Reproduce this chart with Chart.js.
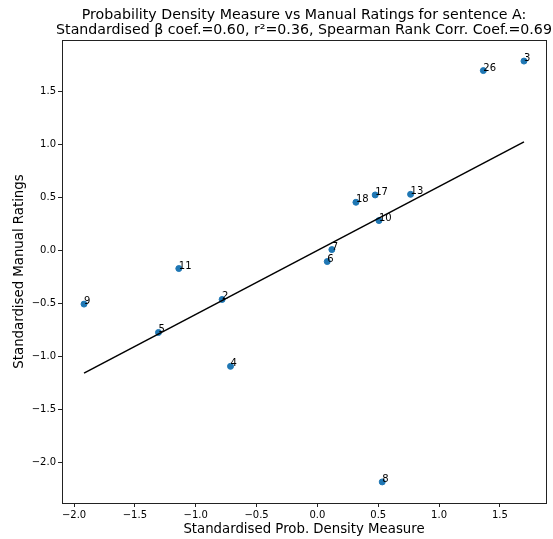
<!DOCTYPE html>
<html>
<head>
<meta charset="utf-8">
<script src="https://cdn.jsdelivr.net/npm/chart.js@4.4.1/dist/chart.umd.min.js"></script>
<style>
  html, body { margin: 0; padding: 0; background: #fff; }
  #wrap { width: 553px; height: 539px; }
</style>
</head>
<body>
<div id="wrap"><canvas id="chart" width="553" height="539"></canvas></div>
<script>
/* data */
const sentenceIds   = ["3", "26", "17", "13", "18", "10", "7", "6", "11", "9", "2", "5", "4", "8"];
const probDensity   = [1.698, 1.364, 0.475, 0.766, 0.317, 0.506, 0.119, 0.081, -1.139, -1.918, -0.783, -1.306, -0.714, 0.533];
const manualRatings = [1.790, 1.700, 0.525, 0.531, 0.456, 0.283, 0.009, -0.104, -0.170, -0.506, -0.462, -0.774, -1.094, -2.186];
const fitX = [-1.918, 1.698];
const fitY = [-1.158, 1.027];
const xTicks = [-2.0, -1.5, -1.0, -0.5, 0.0, 0.5, 1.0, 1.5];
const yTicks = [-2.0, -1.5, -1.0, -0.5, 0.0, 0.5, 1.0, 1.5];
const titleLines = [
  "Probability Density Measure vs Manual Ratings for sentence A:",
  "Standardised \u03b2 coef.=0.60, r\u00b2=0.36, Spearman Rank Corr. Coef.=0.69"
];

const FONT = "'DejaVu Sans', sans-serif";
const fmt = v => v.toFixed(1).replace("-", "\u2212");

// title over the axes + full frame
const framePlugin = {
  id: "frame",
  afterDraw(chart) {
    const { ctx, chartArea: a } = chart;
    ctx.save();
    ctx.strokeStyle = "#222";
    ctx.lineWidth = 1;
    ctx.strokeRect(Math.round(a.left) + 0.5, Math.round(a.top) + 0.5,
                   Math.round(a.right - a.left), Math.round(a.bottom - a.top));
    ctx.fillStyle = "#000";
    ctx.font = "14.2px " + FONT;
    ctx.textAlign = "center";
    ctx.textBaseline = "alphabetic";
    const cx = (a.left + a.right) / 2;
    ctx.fillText(titleLines[0], cx, 18.5);
    ctx.fillText(titleLines[1], cx, 33.5);
    ctx.restore();
  }
};

// point annotations
const labelPlugin = {
  id: "pointLabels",
  afterDatasetsDraw(chart) {
    const meta = chart.getDatasetMeta(1);
    const { ctx } = chart;
    ctx.save();
    ctx.fillStyle = "#000";
    ctx.font = "10px " + FONT;
    ctx.textAlign = "left";
    ctx.textBaseline = "alphabetic";
    meta.data.forEach((pt, i) => ctx.fillText(sentenceIds[i], pt.x, pt.y));
    ctx.restore();
  }
};

const axisCommon = (ticks, title, titlePad) => ({
  type: "linear",
  afterBuildTicks: s => { s.ticks = ticks.map(v => ({ value: v })); },
  ticks: { callback: v => fmt(v), color: "#000", font: { family: FONT, size: 10 },
           padding: 2, autoSkip: false, maxRotation: 0 },
  grid: { display: true, drawOnChartArea: false, drawTicks: true, tickLength: 4,
          color: "#222", lineWidth: 1 },
  border: { display: true, color: "#222", width: 1 },
  title: { display: true, text: title, color: "#000",
           font: { family: FONT, size: 13.3 }, padding: titlePad }
});

new Chart(document.getElementById("chart"), {
  data: {
    datasets: [
      {
        type: "line",
        data: fitX.map((x, i) => ({ x, y: fitY[i] })),
        borderColor: "#000",
        borderWidth: 1.5,
        pointRadius: 0,
        fill: false,
        order: 0
      },
      {
        type: "scatter",
        data: probDensity.map((x, i) => ({ x, y: manualRatings[i] })),
        backgroundColor: "#1f77b4",
        borderColor: "#1f77b4",
        borderWidth: 1,
        pointRadius: 3,
        order: 1
      }
    ]
  },
  options: {
    responsive: false,
    animation: false,
    devicePixelRatio: 1,
    layout: { padding: { top: 40, right: 7, left: 0, bottom: 0 } },
    plugins: { legend: { display: false }, tooltip: { enabled: false } },
    scales: {
      x: Object.assign(axisCommon(xTicks, "Standardised Prob. Density Measure", { top: 0, bottom: 1 }), {
        position: "bottom", min: -2.099, max: 1.879,
        afterFit: s => { s.height = 36; }
      }),
      y: Object.assign(axisCommon(yTicks, "Standardised Manual Ratings", { top: 12, bottom: 0 }), {
        position: "left", min: -2.385, max: 1.989,
        afterFit: s => { s.width = 62; }
      })
    }
  },
  plugins: [framePlugin, labelPlugin]
});
</script>
</body>
</html>
